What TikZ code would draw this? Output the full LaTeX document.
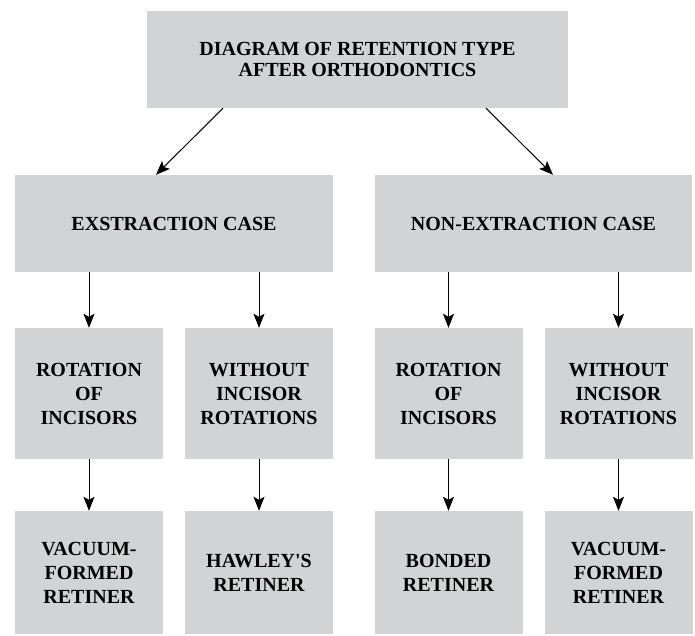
\documentclass[tikz,border=0pt]{standalone}
\usepackage{fontspec}
\setmainfont{Liberation Serif}
\usetikzlibrary{arrows.meta}
\definecolor{boxgray}{RGB}{209,211,212}

\begin{document}
\begin{tikzpicture}[x=1pt, y=-1pt,
		box/.style={fill=boxgray, inner sep=0pt, align=center, font=\bfseries\fontsize{20}{24}\selectfont},
		topbox/.style={box, font=\bfseries\fontsize{20}{20.7}\selectfont},
		casebox/.style={box, minimum height=97pt},
		typebox/.style={box, minimum width=148pt, minimum height=131pt},
		retbox/.style={box, minimum width=148pt, minimum height=123pt}]
				\useasboundingbox (0, 0) rectangle (695, 635);
				\node[topbox, minimum width=421pt, minimum height=97pt] (T)at(357.5, 59.5) {DIAGRAM OF RETENTION TYPE\\AFTER ORTHODONTICS};
				\node[casebox, minimum width=318pt] (E)at(174, 223.5) {EXSTRACTION CASE};
				\node[casebox, minimum width=317pt] (N)at(533.5, 223.5) {NON-EXTRACTION CASE};
				\node[typebox] (ER)at(89, 393.5) {ROTATION\\OF\\INCISORS};
				\node[typebox] (EW)at(259, 393.5) {WITHOUT\\INCISOR\\ROTATIONS};
				\node[typebox] (NR)at(448.5, 393.5) {ROTATION\\OF\\INCISORS};
				\node[typebox] (NW)at(618.5, 393.5) {WITHOUT\\INCISOR\\ROTATIONS};
				\node[retbox] (ERV)at(89, 572.5) {VACUUM-\\FORMED\\RETINER};
				\node[retbox] (EWH)at(259, 572.5) {HAWLEY\textquotesingle S\\RETINER};
				\node[retbox] (NRB)at(448.5, 572.5) {BONDED\\RETINER};
				\node[retbox] (NWV)at(618.5, 572.5) {VACUUM-\\FORMED\\RETINER};
				\draw[->, >={Stealth[length=14pt, width=11pt, inset=3pt]}, line width=1pt] ([xshift=-134.5pt]T.south) -- ([xshift=-18pt]E.north);
				\draw[->, >={Stealth[length=14pt, width=11pt, inset=3pt]}, line width=1pt] ([xshift=128.5pt]T.south) -- ([xshift=19.5pt]N.north);
				\draw[->, >={Stealth[length=14pt, width=11pt, inset=3pt]}, line width=1pt] (E.south -| ER) -- (ER);
				\draw[->, >={Stealth[length=14pt, width=11pt, inset=3pt]}, line width=1pt] (E.south -| EW) -- (EW);
				\draw[->, >={Stealth[length=14pt, width=11pt, inset=3pt]}, line width=1pt] (N.south -| NR) -- (NR);
				\draw[->, >={Stealth[length=14pt, width=11pt, inset=3pt]}, line width=1pt] (N.south -| NW) -- (NW);
				\draw[->, >={Stealth[length=14pt, width=11pt, inset=3pt]}, line width=1pt] (ER) -- (ERV);
				\draw[->, >={Stealth[length=14pt, width=11pt, inset=3pt]}, line width=1pt] (EW) -- (EWH);
				\draw[->, >={Stealth[length=14pt, width=11pt, inset=3pt]}, line width=1pt] (NR) -- (NRB);
				\draw[->, >={Stealth[length=14pt, width=11pt, inset=3pt]}, line width=1pt] (NW) -- (NWV);
			\end{tikzpicture}
\end{document}
